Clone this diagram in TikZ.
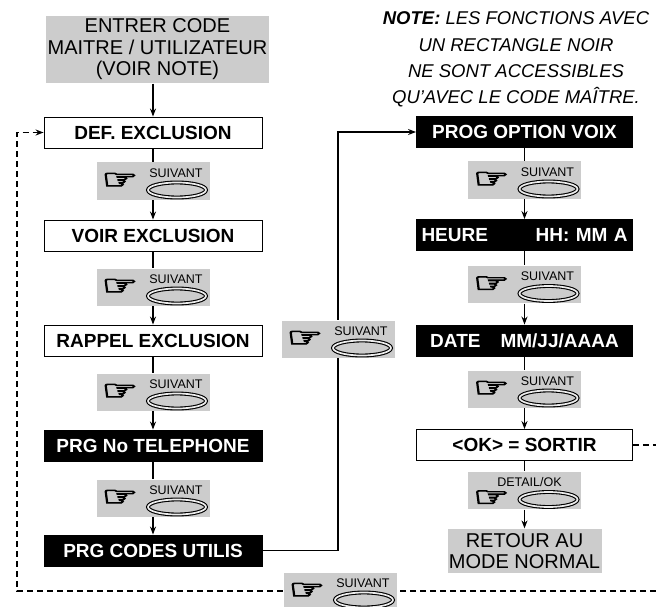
\documentclass[tikz,border=0pt]{standalone}
\usepackage{fontspec}
\setmainfont{Liberation Sans}
\newfontfamily\dejavu{DejaVu Sans}[FakeBold=3.5]
\usetikzlibrary{arrows.meta}

% tasto: nome, posizione, etichetta, spostamento etichetta, spostamento mano
\newcommand{\tasto}[5]{%
  \node[tastobox] (#1) at #2 {};
  \node[manina] (#1-m) at ([xshift=-33pt,yshift=#5]#1.center) {\scalebox{1.45}[1]{\dejavu ☞}};
  \node[etichetta] (#1-e) at ([xshift=#4,yshift=8pt]#1.center) {#3};
  \draw[anello] ([xshift=24pt,yshift=-9pt]#1.center) ellipse (29pt and 7.5pt);
}

\begin{document}
\begin{tikzpicture}[x=1pt, y=-1pt, >={Stealth[length=8pt,width=6pt]}, line width=1.2pt,
  boite/.style={draw, line width=0.9pt, minimum width=218pt, minimum height=31pt, inner sep=0pt, font=\bfseries\fontsize{19}{21}\selectfont},
  noire/.style={boite, fill=black, text=white},
  grise/.style={fill=gray!40, inner sep=0pt, align=center, font=\fontsize{20}{21.5}\selectfont},
  tastobox/.style={fill=gray!40, minimum width=113pt, minimum height=37pt, inner sep=0pt},
  manina/.style={inner sep=0pt, font=\fontsize{28}{28}\selectfont},
  etichetta/.style={inner sep=0pt, font=\fontsize{12.5}{12.5}\selectfont},
  anello/.style={line width=1.1pt, double=gray!15, double distance=1.7pt},
  tratteggio/.style={dash pattern=on 6pt off 4pt}]

    \useasboundingbox (0,0) rectangle (656,607);

    % Codice d'accesso
    \node[grise, minimum width=223pt, minimum height=67pt] (entrer) at (157.5,49.5) {ENTRER CODE\\MAITRE / UTILIZATEUR\\(VOIR NOTE)};

    % Nota
    \node[align=center, inner sep=0pt, font=\itshape\fontsize{18.5}{26.3}\selectfont] (note) at (516,59.5) {\textbf{NOTE:} LES FONCTIONS AVEC\\UN RECTANGLE NOIR\\NE SONT ACCESSIBLES\\QU'AVEC LE CODE MAÎTRE.};

    % Colonna sinistra
    \node[boite] (def) at (153,132.5) {DEF. EXCLUSION};
    \tasto{b1}{(153,181)}{SUIVANT}{23pt}{0pt}
    \node[boite] (voir) at (153,235.5) {VOIR EXCLUSION};
    \tasto{b2}{(153,287)}{SUIVANT}{23pt}{0pt}
    \node[boite] (rappel) at (153,340.5) {RAPPEL EXCLUSION};
    \tasto{b3}{(153,392)}{SUIVANT}{23pt}{0pt}
    \node[noire] (tel) at (153,445.5) {PRG No TELEPHONE};
    \tasto{b4}{(153,498)}{SUIVANT}{23pt}{0pt}
    \node[noire] (codes) at (153,550.5) {PRG CODES UTILIS};

    % Colonna destra
    \node[noire, minimum width=216pt] (voix) at (524.5,132) {PROG OPTION VOIX};
    \tasto{r1}{(524.5,180)}{SUIVANT}{23pt}{0pt}
    \node[noire, minimum width=216pt, text width=206pt] (heure) at (524.5,235) {HEURE\hfill HH: MM A};
    \tasto{r2}{(524.5,284.5)}{SUIVANT}{23pt}{0pt}
    \node[noire, minimum width=216pt] (date) at (524.5,340.5) {DATE\hspace{20pt}MM/JJ/AAAA};
    \tasto{r3}{(524.5,389)}{SUIVANT}{23pt}{0pt}
    \node[boite, minimum width=216pt] (ok) at (524.5,445) {<OK> = SORTIR};
    \tasto{r4}{(524.5,490.5)}{DETAIL/OK}{5pt}{-8pt}
    \node[grise, minimum width=154pt, minimum height=44pt] (retour) at (524.5,551) {RETOUR AU\\MODE NORMAL};

    % Tasti di collegamento
    \tasto{bm}{(338,339)}{SUIVANT}{23pt}{0pt}
    \tasto{bb}{(340,591)}{SUIVANT}{23pt}{0pt}

    % Punti del ritorno tratteggiato
    \coordinate (bordoA) at (656,445);
    \coordinate (bordoB) at (656,591);
    \coordinate (angolo) at (17,591);

    % Frecce
    \draw[->] (def.north |- entrer.south) -- (def.north);
    \foreach \a/\b in {def/b1, voir/b2, rappel/b3, tel/b4, voix/r1, heure/r2, date/r3, ok/r4}
        \draw (\a) -- (\b);
    \foreach \a/\b in {b1/voir, b2/rappel, b3/tel, b4/codes, r1/heure, r2/date, r3/ok, r4/retour}
        \draw[->] (\a) -- (\b);
    \draw (codes.east) -| (bm.south);
    \draw[->] (bm.north) |- (voix.west);

    % Ritorno
    \draw[tratteggio] (ok.east) -- (bordoA);
    \draw[tratteggio] (bordoB) -- (bb.east);
    \draw[tratteggio, ->] (bb.west) -- (angolo) |- (def.west);

\end{tikzpicture}
\end{document}
